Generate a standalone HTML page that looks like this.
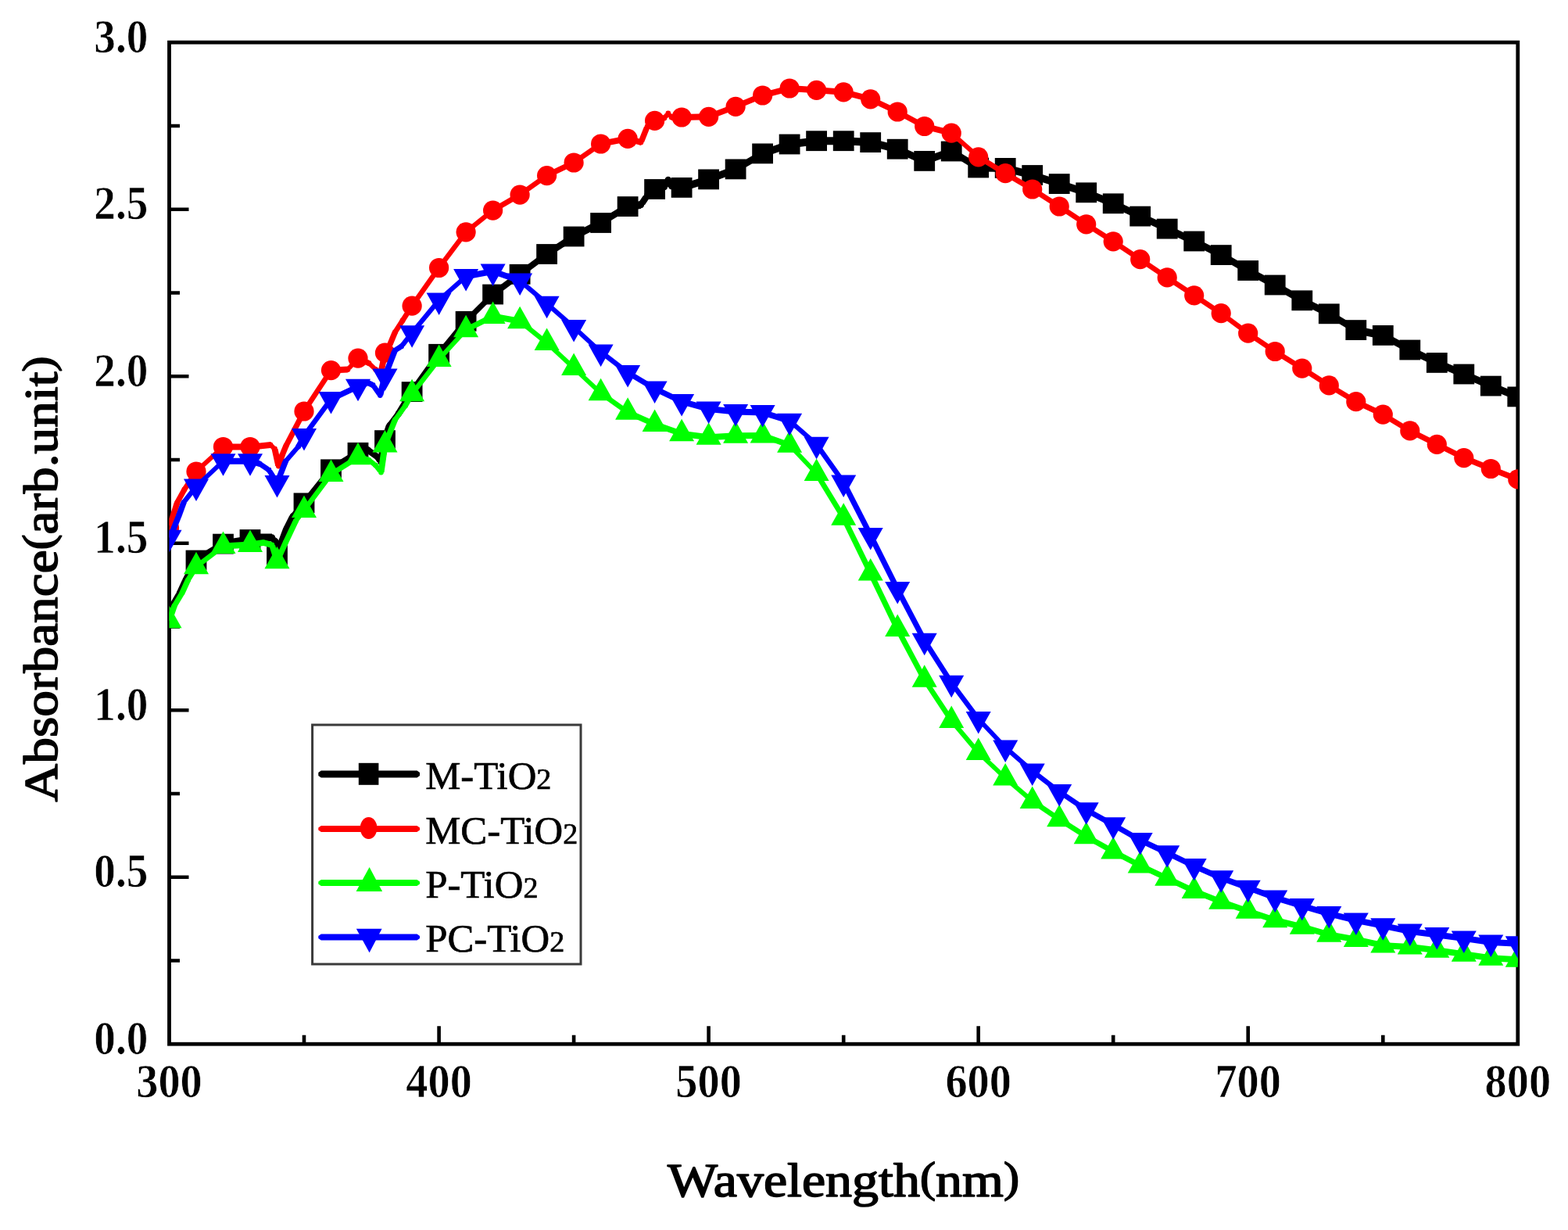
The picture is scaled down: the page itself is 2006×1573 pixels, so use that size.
<!DOCTYPE html>
<html lang="en">
<head>
<meta charset="utf-8">
<title>Absorbance vs Wavelength</title>
<style>
html,body{margin:0;padding:0;background:#fff;}
body{width:2006px;height:1573px;overflow:hidden;}
svg{display:block;filter:blur(0.55px);}
text{font-family:"Liberation Serif",serif;}
</style>
</head>
<body>
<svg width="2006" height="1573" viewBox="0 0 2006 1573">
<rect width="2006" height="1573" fill="#fff"/>
<rect x="216.5" y="54.2" width="1725.3" height="1281.0" fill="none" stroke="#000" stroke-width="4.8"/>
<path d="M216.5,1228.5h13.5M216.5,1121.7h25.0M216.5,1015.0h13.5M216.5,908.2h25.0M216.5,801.5h13.5M216.5,694.7h25.0M216.5,588.0h13.5M216.5,481.2h25.0M216.5,374.5h13.5M216.5,267.7h25.0M216.5,161.0h13.5M389.0,1335.2v-11.5M561.6,1335.2v-23.0M734.1,1335.2v-11.5M906.6,1335.2v-23.0M1079.2,1335.2v-11.5M1251.7,1335.2v-23.0M1424.2,1335.2v-11.5M1596.7,1335.2v-23.0M1769.3,1335.2v-11.5" stroke="#000" stroke-width="4.6" fill="none"/>
<clipPath id="plot"><rect x="216.5" y="54.2" width="1725.3" height="1281.0"/></clipPath>
<g clip-path="url(#plot)"><g fill="#000"><polygon points="211.5,789.0 215.5,775.0 225.5,775.0 221.5,789.0"/><polygon points="215.5,775.0 225.5,758.3 235.5,758.3 225.5,775.0"/><polygon points="225.5,758.3 233.0,741.8 243.0,741.8 235.5,758.3"/><polygon points="233.0,741.8 246.0,716.5 256.0,716.5 243.0,741.8"/><polygon points="251.0,711.5 285.5,690.6 285.5,700.6 251.0,721.5"/><polygon points="285.5,690.6 320.0,685.0 320.0,695.0 285.5,700.6"/><polygon points="320.0,685.0 332.0,682.5 332.0,692.5 320.0,695.0"/><polygon points="332.0,682.5 348.0,682.5 348.0,692.5 332.0,692.5"/><polygon points="343.0,687.5 347.0,692.0 357.0,692.0 353.0,687.5"/><polygon points="347.0,692.0 349.5,706.0 359.5,706.0 357.0,692.0"/><polygon points="349.5,706.0 356.0,692.0 366.0,692.0 359.5,706.0"/><polygon points="356.0,692.0 362.0,676.0 372.0,676.0 366.0,692.0"/><polygon points="362.0,676.0 370.0,660.0 380.0,660.0 372.0,676.0"/><polygon points="370.0,660.0 384.0,643.3 394.0,643.3 380.0,660.0"/><polygon points="384.0,643.3 418.5,600.3 428.5,600.3 394.0,643.3"/><polygon points="423.5,595.3 458.0,573.8 458.0,583.8 423.5,605.3"/><polygon points="458.0,573.8 470.6,570.5 470.6,580.5 458.0,583.8"/><polygon points="470.6,570.5 483.8,580.0 483.8,590.0 470.6,580.5"/><polygon points="478.8,585.0 482.5,591.0 492.5,591.0 488.8,585.0"/><polygon points="482.5,591.0 487.5,563.1 497.5,563.1 492.5,591.0"/><polygon points="487.5,563.1 493.7,544.0 503.7,544.0 497.5,563.1"/><polygon points="493.7,544.0 505.0,529.0 515.0,529.0 503.7,544.0"/><polygon points="505.0,529.0 522.1,501.1 532.1,501.1 515.0,529.0"/><polygon points="522.1,501.1 556.6,452.8 566.6,452.8 532.1,501.1"/><polygon points="556.6,452.8 591.1,410.8 601.1,410.8 566.6,452.8"/><polygon points="596.1,405.8 630.6,371.5 630.6,381.5 596.1,415.8"/><polygon points="630.6,371.5 665.1,345.8 665.1,355.8 630.6,381.5"/><polygon points="665.1,345.8 699.6,320.0 699.6,330.0 665.1,355.8"/><polygon points="699.6,320.0 734.1,297.5 734.1,307.5 699.6,330.0"/><polygon points="734.1,297.5 768.6,280.0 768.6,290.0 734.1,307.5"/><polygon points="768.6,280.0 803.1,259.1 803.1,269.1 768.6,290.0"/><polygon points="803.1,259.1 820.0,257.0 820.0,267.0 803.1,269.1"/><polygon points="815.0,262.0 823.0,250.0 833.0,250.0 825.0,262.0"/><polygon points="828.0,245.0 837.6,237.0 837.6,247.0 828.0,255.0"/><polygon points="837.6,237.0 850.0,234.0 850.0,244.0 837.6,247.0"/><polygon points="845.0,239.0 849.8,230.0 859.8,230.0 855.0,239.0"/><polygon points="849.8,230.0 854.0,238.0 864.0,238.0 859.8,230.0"/><polygon points="859.0,233.0 872.1,234.9 872.1,244.9 859.0,243.0"/><polygon points="872.1,234.9 906.6,224.4 906.6,234.4 872.1,244.9"/><polygon points="906.6,224.4 941.1,211.4 941.1,221.4 906.6,234.4"/><polygon points="941.1,211.4 975.6,191.4 975.6,201.4 941.1,221.4"/><polygon points="975.6,191.4 1010.1,179.5 1010.1,189.5 975.6,201.4"/><polygon points="1010.1,179.5 1044.6,175.2 1044.6,185.2 1010.1,189.5"/><polygon points="1044.6,175.2 1079.2,175.2 1079.2,185.2 1044.6,185.2"/><polygon points="1079.2,175.2 1113.7,177.1 1113.7,187.1 1079.2,185.2"/><polygon points="1113.7,177.1 1148.2,185.7 1148.2,195.7 1113.7,187.1"/><polygon points="1148.2,185.7 1182.7,200.9 1182.7,210.9 1148.2,195.7"/><polygon points="1182.7,200.9 1217.2,188.5 1217.2,198.5 1182.7,210.9"/><polygon points="1217.2,188.5 1251.7,209.5 1251.7,219.5 1217.2,198.5"/><polygon points="1251.7,209.5 1286.2,209.9 1286.2,219.9 1251.7,219.5"/><polygon points="1286.2,209.9 1320.7,219.0 1320.7,229.0 1286.2,219.9"/><polygon points="1320.7,219.0 1355.2,230.1 1355.2,240.1 1320.7,229.0"/><polygon points="1355.2,230.1 1389.7,241.3 1389.7,251.3 1355.2,240.1"/><polygon points="1389.7,241.3 1424.2,255.3 1424.2,265.3 1389.7,251.3"/><polygon points="1424.2,255.3 1458.7,271.6 1458.7,281.6 1424.2,265.3"/><polygon points="1458.7,271.6 1493.2,287.6 1493.2,297.6 1458.7,281.6"/><polygon points="1493.2,287.6 1527.7,303.5 1527.7,313.5 1493.2,297.6"/><polygon points="1527.7,303.5 1562.2,321.1 1562.2,331.1 1527.7,313.5"/><polygon points="1562.2,321.1 1596.7,341.0 1596.7,351.0 1562.2,331.1"/><polygon points="1596.7,341.0 1631.2,359.5 1631.2,369.5 1596.7,351.0"/><polygon points="1631.2,359.5 1665.8,379.3 1665.8,389.3 1631.2,369.5"/><polygon points="1665.8,379.3 1700.3,396.3 1700.3,406.3 1665.8,389.3"/><polygon points="1700.3,396.3 1734.8,417.1 1734.8,427.1 1700.3,406.3"/><polygon points="1734.8,417.1 1769.3,423.9 1769.3,433.9 1734.8,427.1"/><polygon points="1769.3,423.9 1803.8,442.5 1803.8,452.5 1769.3,433.9"/><polygon points="1803.8,442.5 1838.3,458.9 1838.3,468.9 1803.8,452.5"/><polygon points="1838.3,458.9 1872.8,473.5 1872.8,483.5 1838.3,468.9"/><polygon points="1872.8,473.5 1907.3,488.6 1907.3,498.6 1872.8,483.5"/><polygon points="1907.3,488.6 1941.8,502.4 1941.8,512.4 1907.3,498.6"/><circle cx="220.5" cy="775.0" r="4.2"/><circle cx="230.5" cy="758.3" r="4.2"/><circle cx="238.0" cy="741.8" r="4.2"/><circle cx="251.0" cy="716.5" r="4.2"/><circle cx="285.5" cy="695.6" r="4.2"/><circle cx="320.0" cy="690.0" r="4.2"/><circle cx="332.0" cy="687.5" r="4.2"/><circle cx="348.0" cy="687.5" r="4.2"/><circle cx="352.0" cy="692.0" r="4.2"/><circle cx="354.5" cy="706.0" r="4.2"/><circle cx="361.0" cy="692.0" r="4.2"/><circle cx="367.0" cy="676.0" r="4.2"/><circle cx="375.0" cy="660.0" r="4.2"/><circle cx="389.0" cy="643.3" r="4.2"/><circle cx="423.5" cy="600.3" r="4.2"/><circle cx="458.0" cy="578.8" r="4.2"/><circle cx="470.6" cy="575.5" r="4.2"/><circle cx="483.8" cy="585.0" r="4.2"/><circle cx="487.5" cy="591.0" r="4.2"/><circle cx="492.5" cy="563.1" r="4.2"/><circle cx="498.7" cy="544.0" r="4.2"/><circle cx="510.0" cy="529.0" r="4.2"/><circle cx="527.1" cy="501.1" r="4.2"/><circle cx="561.6" cy="452.8" r="4.2"/><circle cx="596.1" cy="410.8" r="4.2"/><circle cx="630.6" cy="376.5" r="4.2"/><circle cx="665.1" cy="350.8" r="4.2"/><circle cx="699.6" cy="325.0" r="4.2"/><circle cx="734.1" cy="302.5" r="4.2"/><circle cx="768.6" cy="285.0" r="4.2"/><circle cx="803.1" cy="264.1" r="4.2"/><circle cx="820.0" cy="262.0" r="4.2"/><circle cx="828.0" cy="250.0" r="4.2"/><circle cx="837.6" cy="242.0" r="4.2"/><circle cx="850.0" cy="239.0" r="4.2"/><circle cx="854.8" cy="230.0" r="4.2"/><circle cx="859.0" cy="238.0" r="4.2"/><circle cx="872.1" cy="239.9" r="4.2"/><circle cx="906.6" cy="229.4" r="4.2"/><circle cx="941.1" cy="216.4" r="4.2"/><circle cx="975.6" cy="196.4" r="4.2"/><circle cx="1010.1" cy="184.5" r="4.2"/><circle cx="1044.6" cy="180.2" r="4.2"/><circle cx="1079.2" cy="180.2" r="4.2"/><circle cx="1113.7" cy="182.1" r="4.2"/><circle cx="1148.2" cy="190.7" r="4.2"/><circle cx="1182.7" cy="205.9" r="4.2"/><circle cx="1217.2" cy="193.5" r="4.2"/><circle cx="1251.7" cy="214.5" r="4.2"/><circle cx="1286.2" cy="214.9" r="4.2"/><circle cx="1320.7" cy="224.0" r="4.2"/><circle cx="1355.2" cy="235.1" r="4.2"/><circle cx="1389.7" cy="246.3" r="4.2"/><circle cx="1424.2" cy="260.3" r="4.2"/><circle cx="1458.7" cy="276.6" r="4.2"/><circle cx="1493.2" cy="292.6" r="4.2"/><circle cx="1527.7" cy="308.5" r="4.2"/><circle cx="1562.2" cy="326.1" r="4.2"/><circle cx="1596.7" cy="346.0" r="4.2"/><circle cx="1631.2" cy="364.5" r="4.2"/><circle cx="1665.8" cy="384.3" r="4.2"/><circle cx="1700.3" cy="401.3" r="4.2"/><circle cx="1734.8" cy="422.1" r="4.2"/><circle cx="1769.3" cy="428.9" r="4.2"/><circle cx="1803.8" cy="447.5" r="4.2"/><circle cx="1838.3" cy="463.9" r="4.2"/><circle cx="1872.8" cy="478.5" r="4.2"/><circle cx="1907.3" cy="493.6" r="4.2"/></g>
<g fill="#000"><rect x="237.6" y="703.6" width="26.8" height="25.8"/><rect x="272.1" y="682.7" width="26.8" height="25.8"/><rect x="306.6" y="677.1" width="26.8" height="25.8"/><rect x="341.1" y="697.1" width="26.8" height="25.8"/><rect x="375.6" y="630.4" width="26.8" height="25.8"/><rect x="410.1" y="587.4" width="26.8" height="25.8"/><rect x="444.6" y="565.9" width="26.8" height="25.8"/><rect x="479.1" y="550.2" width="26.8" height="25.8"/><rect x="513.7" y="488.2" width="26.8" height="25.8"/><rect x="548.2" y="439.9" width="26.8" height="25.8"/><rect x="582.7" y="397.9" width="26.8" height="25.8"/><rect x="617.2" y="363.6" width="26.8" height="25.8"/><rect x="651.7" y="337.9" width="26.8" height="25.8"/><rect x="686.2" y="312.1" width="26.8" height="25.8"/><rect x="720.7" y="289.6" width="26.8" height="25.8"/><rect x="755.2" y="272.1" width="26.8" height="25.8"/><rect x="789.7" y="251.2" width="26.8" height="25.8"/><rect x="824.2" y="229.1" width="26.8" height="25.8"/><rect x="858.7" y="227.0" width="26.8" height="25.8"/><rect x="893.2" y="216.5" width="26.8" height="25.8"/><rect x="927.7" y="203.5" width="26.8" height="25.8"/><rect x="962.2" y="183.5" width="26.8" height="25.8"/><rect x="996.7" y="171.6" width="26.8" height="25.8"/><rect x="1031.2" y="167.3" width="26.8" height="25.8"/><rect x="1065.8" y="167.3" width="26.8" height="25.8"/><rect x="1100.3" y="169.2" width="26.8" height="25.8"/><rect x="1134.8" y="177.8" width="26.8" height="25.8"/><rect x="1169.3" y="193.0" width="26.8" height="25.8"/><rect x="1203.8" y="180.6" width="26.8" height="25.8"/><rect x="1238.3" y="201.6" width="26.8" height="25.8"/><rect x="1272.8" y="202.0" width="26.8" height="25.8"/><rect x="1307.3" y="211.1" width="26.8" height="25.8"/><rect x="1341.8" y="222.2" width="26.8" height="25.8"/><rect x="1376.3" y="233.4" width="26.8" height="25.8"/><rect x="1410.8" y="247.4" width="26.8" height="25.8"/><rect x="1445.3" y="263.7" width="26.8" height="25.8"/><rect x="1479.8" y="279.7" width="26.8" height="25.8"/><rect x="1514.3" y="295.6" width="26.8" height="25.8"/><rect x="1548.8" y="313.2" width="26.8" height="25.8"/><rect x="1583.3" y="333.1" width="26.8" height="25.8"/><rect x="1617.8" y="351.6" width="26.8" height="25.8"/><rect x="1652.4" y="371.4" width="26.8" height="25.8"/><rect x="1686.9" y="388.4" width="26.8" height="25.8"/><rect x="1721.4" y="409.2" width="26.8" height="25.8"/><rect x="1755.9" y="416.0" width="26.8" height="25.8"/><rect x="1790.4" y="434.6" width="26.8" height="25.8"/><rect x="1824.9" y="451.0" width="26.8" height="25.8"/><rect x="1859.4" y="465.6" width="26.8" height="25.8"/><rect x="1893.9" y="480.7" width="26.8" height="25.8"/><rect x="1928.4" y="494.5" width="26.8" height="25.8"/></g>
<g fill="#f00"><polygon points="212.5,672.0 217.5,659.2 225.5,659.2 220.5,672.0"/><polygon points="217.5,659.2 222.8,642.6 230.8,642.6 225.5,659.2"/><polygon points="222.8,642.6 231.9,626.0 239.9,626.0 230.8,642.6"/><polygon points="231.9,626.0 247.0,603.0 255.0,603.0 239.9,626.0"/><polygon points="251.0,599.0 285.5,567.5 285.5,575.5 251.0,607.0"/><polygon points="285.5,567.5 320.0,567.5 320.0,575.5 285.5,575.5"/><polygon points="320.0,567.5 332.0,566.5 332.0,574.5 320.0,575.5"/><polygon points="332.0,566.5 346.0,565.0 346.0,573.0 332.0,574.5"/><polygon points="346.0,565.0 351.5,570.0 351.5,578.0 346.0,573.0"/><polygon points="347.5,574.0 352.3,596.0 360.3,596.0 355.5,574.0"/><polygon points="352.3,596.0 357.0,582.0 365.0,582.0 360.3,596.0"/><polygon points="357.0,582.0 362.0,570.0 370.0,570.0 365.0,582.0"/><polygon points="362.0,570.0 385.0,526.0 393.0,526.0 370.0,570.0"/><polygon points="385.0,526.0 419.5,473.6 427.5,473.6 393.0,526.0"/><polygon points="423.5,469.6 445.0,468.5 445.0,476.5 423.5,477.6"/><polygon points="441.0,472.5 454.0,458.2 462.0,458.2 449.0,472.5"/><polygon points="458.0,454.2 472.0,460.5 472.0,468.5 458.0,462.2"/><polygon points="472.0,460.5 480.5,468.5 480.5,476.5 472.0,468.5"/><polygon points="480.5,468.5 487.0,474.0 487.0,482.0 480.5,476.5"/><polygon points="483.0,478.0 488.5,451.2 496.5,451.2 491.0,478.0"/><polygon points="488.5,451.2 494.7,441.0 502.7,441.0 496.5,451.2"/><polygon points="494.7,441.0 501.3,425.0 509.3,425.0 502.7,441.0"/><polygon points="501.3,425.0 511.0,410.0 519.0,410.0 509.3,425.0"/><polygon points="511.0,410.0 523.1,391.2 531.1,391.2 519.0,410.0"/><polygon points="523.1,391.2 557.6,342.5 565.6,342.5 531.1,391.2"/><polygon points="557.6,342.5 592.1,296.8 600.1,296.8 565.6,342.5"/><polygon points="596.1,292.8 630.6,265.1 630.6,273.1 596.1,300.8"/><polygon points="630.6,265.1 665.1,245.1 665.1,253.1 630.6,273.1"/><polygon points="665.1,245.1 699.6,220.6 699.6,228.6 665.1,253.1"/><polygon points="699.6,220.6 734.1,204.0 734.1,212.0 699.6,228.6"/><polygon points="734.1,204.0 768.6,180.0 768.6,188.0 734.1,212.0"/><polygon points="768.6,180.0 803.1,173.3 803.1,181.3 768.6,188.0"/><polygon points="803.1,173.3 820.0,178.0 820.0,186.0 803.1,181.3"/><polygon points="816.0,182.0 824.0,162.0 832.0,162.0 824.0,182.0"/><polygon points="828.0,158.0 837.6,150.4 837.6,158.4 828.0,166.0"/><polygon points="837.6,150.4 850.0,147.0 850.0,155.0 837.6,158.4"/><polygon points="846.0,151.0 850.8,145.0 858.8,145.0 854.0,151.0"/><polygon points="850.8,145.0 855.0,150.0 863.0,150.0 858.8,145.0"/><polygon points="859.0,146.0 872.1,146.0 872.1,154.0 859.0,154.0"/><polygon points="872.1,146.0 906.6,145.3 906.6,153.3 872.1,154.0"/><polygon points="906.6,145.3 941.1,132.3 941.1,140.3 906.6,153.3"/><polygon points="941.1,132.3 975.6,118.0 975.6,126.0 941.1,140.3"/><polygon points="975.6,118.0 1010.1,109.0 1010.1,117.0 975.6,126.0"/><polygon points="1010.1,109.0 1044.6,111.3 1044.6,119.3 1010.1,117.0"/><polygon points="1044.6,111.3 1079.2,113.8 1079.2,121.8 1044.6,119.3"/><polygon points="1079.2,113.8 1113.7,122.8 1113.7,130.8 1079.2,121.8"/><polygon points="1113.7,122.8 1148.2,139.0 1148.2,147.0 1113.7,130.8"/><polygon points="1148.2,139.0 1182.7,157.5 1182.7,165.5 1148.2,147.0"/><polygon points="1182.7,157.5 1217.2,166.2 1217.2,174.2 1182.7,165.5"/><polygon points="1217.2,166.2 1251.7,196.8 1251.7,204.8 1217.2,174.2"/><polygon points="1251.7,196.8 1286.2,217.7 1286.2,225.7 1251.7,204.8"/><polygon points="1286.2,217.7 1320.7,238.0 1320.7,246.0 1286.2,225.7"/><polygon points="1320.7,238.0 1355.2,260.0 1355.2,268.0 1320.7,246.0"/><polygon points="1355.2,260.0 1389.7,282.8 1389.7,290.8 1355.2,268.0"/><polygon points="1389.7,282.8 1424.2,304.8 1424.2,312.8 1389.7,290.8"/><polygon points="1424.2,304.8 1458.7,327.7 1458.7,335.7 1424.2,312.8"/><polygon points="1458.7,327.7 1493.2,350.9 1493.2,358.9 1458.7,335.7"/><polygon points="1493.2,350.9 1527.7,373.8 1527.7,381.8 1493.2,358.9"/><polygon points="1527.7,373.8 1562.2,396.7 1562.2,404.7 1527.7,381.8"/><polygon points="1562.2,396.7 1596.7,422.2 1596.7,430.2 1562.2,404.7"/><polygon points="1596.7,422.2 1631.2,445.5 1631.2,453.5 1596.7,430.2"/><polygon points="1631.2,445.5 1665.8,467.1 1665.8,475.1 1631.2,453.5"/><polygon points="1665.8,467.1 1700.3,488.9 1700.3,496.9 1665.8,475.1"/><polygon points="1700.3,488.9 1734.8,509.7 1734.8,517.7 1700.3,496.9"/><polygon points="1734.8,509.7 1769.3,526.1 1769.3,534.1 1734.8,517.7"/><polygon points="1769.3,526.1 1803.8,546.9 1803.8,554.9 1769.3,534.1"/><polygon points="1803.8,546.9 1838.3,564.3 1838.3,572.3 1803.8,554.9"/><polygon points="1838.3,564.3 1872.8,581.6 1872.8,589.6 1838.3,572.3"/><polygon points="1872.8,581.6 1907.3,595.5 1907.3,603.5 1872.8,589.6"/><polygon points="1907.3,595.5 1941.8,608.9 1941.8,616.9 1907.3,603.5"/><circle cx="221.5" cy="659.2" r="3.4"/><circle cx="226.8" cy="642.6" r="3.4"/><circle cx="235.9" cy="626.0" r="3.4"/><circle cx="251.0" cy="603.0" r="3.4"/><circle cx="285.5" cy="571.5" r="3.4"/><circle cx="320.0" cy="571.5" r="3.4"/><circle cx="332.0" cy="570.5" r="3.4"/><circle cx="346.0" cy="569.0" r="3.4"/><circle cx="351.5" cy="574.0" r="3.4"/><circle cx="356.3" cy="596.0" r="3.4"/><circle cx="361.0" cy="582.0" r="3.4"/><circle cx="366.0" cy="570.0" r="3.4"/><circle cx="389.0" cy="526.0" r="3.4"/><circle cx="423.5" cy="473.6" r="3.4"/><circle cx="445.0" cy="472.5" r="3.4"/><circle cx="458.0" cy="458.2" r="3.4"/><circle cx="472.0" cy="464.5" r="3.4"/><circle cx="480.5" cy="472.5" r="3.4"/><circle cx="487.0" cy="478.0" r="3.4"/><circle cx="492.5" cy="451.2" r="3.4"/><circle cx="498.7" cy="441.0" r="3.4"/><circle cx="505.3" cy="425.0" r="3.4"/><circle cx="515.0" cy="410.0" r="3.4"/><circle cx="527.1" cy="391.2" r="3.4"/><circle cx="561.6" cy="342.5" r="3.4"/><circle cx="596.1" cy="296.8" r="3.4"/><circle cx="630.6" cy="269.1" r="3.4"/><circle cx="665.1" cy="249.1" r="3.4"/><circle cx="699.6" cy="224.6" r="3.4"/><circle cx="734.1" cy="208.0" r="3.4"/><circle cx="768.6" cy="184.0" r="3.4"/><circle cx="803.1" cy="177.3" r="3.4"/><circle cx="820.0" cy="182.0" r="3.4"/><circle cx="828.0" cy="162.0" r="3.4"/><circle cx="837.6" cy="154.4" r="3.4"/><circle cx="850.0" cy="151.0" r="3.4"/><circle cx="854.8" cy="145.0" r="3.4"/><circle cx="859.0" cy="150.0" r="3.4"/><circle cx="872.1" cy="150.0" r="3.4"/><circle cx="906.6" cy="149.3" r="3.4"/><circle cx="941.1" cy="136.3" r="3.4"/><circle cx="975.6" cy="122.0" r="3.4"/><circle cx="1010.1" cy="113.0" r="3.4"/><circle cx="1044.6" cy="115.3" r="3.4"/><circle cx="1079.2" cy="117.8" r="3.4"/><circle cx="1113.7" cy="126.8" r="3.4"/><circle cx="1148.2" cy="143.0" r="3.4"/><circle cx="1182.7" cy="161.5" r="3.4"/><circle cx="1217.2" cy="170.2" r="3.4"/><circle cx="1251.7" cy="200.8" r="3.4"/><circle cx="1286.2" cy="221.7" r="3.4"/><circle cx="1320.7" cy="242.0" r="3.4"/><circle cx="1355.2" cy="264.0" r="3.4"/><circle cx="1389.7" cy="286.8" r="3.4"/><circle cx="1424.2" cy="308.8" r="3.4"/><circle cx="1458.7" cy="331.7" r="3.4"/><circle cx="1493.2" cy="354.9" r="3.4"/><circle cx="1527.7" cy="377.8" r="3.4"/><circle cx="1562.2" cy="400.7" r="3.4"/><circle cx="1596.7" cy="426.2" r="3.4"/><circle cx="1631.2" cy="449.5" r="3.4"/><circle cx="1665.8" cy="471.1" r="3.4"/><circle cx="1700.3" cy="492.9" r="3.4"/><circle cx="1734.8" cy="513.7" r="3.4"/><circle cx="1769.3" cy="530.1" r="3.4"/><circle cx="1803.8" cy="550.9" r="3.4"/><circle cx="1838.3" cy="568.3" r="3.4"/><circle cx="1872.8" cy="585.6" r="3.4"/><circle cx="1907.3" cy="599.5" r="3.4"/></g>
<g fill="#f00"><circle cx="216.5" cy="675.0" r="12.6"/><circle cx="251.0" cy="603.0" r="12.6"/><circle cx="285.5" cy="571.5" r="12.6"/><circle cx="320.0" cy="571.5" r="12.6"/><circle cx="389.0" cy="526.0" r="12.6"/><circle cx="423.5" cy="473.6" r="12.6"/><circle cx="458.0" cy="458.2" r="12.6"/><circle cx="492.5" cy="451.2" r="12.6"/><circle cx="527.1" cy="391.2" r="12.6"/><circle cx="561.6" cy="342.5" r="12.6"/><circle cx="596.1" cy="296.8" r="12.6"/><circle cx="630.6" cy="269.1" r="12.6"/><circle cx="665.1" cy="249.1" r="12.6"/><circle cx="699.6" cy="224.6" r="12.6"/><circle cx="734.1" cy="208.0" r="12.6"/><circle cx="768.6" cy="184.0" r="12.6"/><circle cx="803.1" cy="177.3" r="12.6"/><circle cx="837.6" cy="154.4" r="12.6"/><circle cx="872.1" cy="150.0" r="12.6"/><circle cx="906.6" cy="149.3" r="12.6"/><circle cx="941.1" cy="136.3" r="12.6"/><circle cx="975.6" cy="122.0" r="12.6"/><circle cx="1010.1" cy="113.0" r="12.6"/><circle cx="1044.6" cy="115.3" r="12.6"/><circle cx="1079.2" cy="117.8" r="12.6"/><circle cx="1113.7" cy="126.8" r="12.6"/><circle cx="1148.2" cy="143.0" r="12.6"/><circle cx="1182.7" cy="161.5" r="12.6"/><circle cx="1217.2" cy="170.2" r="12.6"/><circle cx="1251.7" cy="200.8" r="12.6"/><circle cx="1286.2" cy="221.7" r="12.6"/><circle cx="1320.7" cy="242.0" r="12.6"/><circle cx="1355.2" cy="264.0" r="12.6"/><circle cx="1389.7" cy="286.8" r="12.6"/><circle cx="1424.2" cy="308.8" r="12.6"/><circle cx="1458.7" cy="331.7" r="12.6"/><circle cx="1493.2" cy="354.9" r="12.6"/><circle cx="1527.7" cy="377.8" r="12.6"/><circle cx="1562.2" cy="400.7" r="12.6"/><circle cx="1596.7" cy="426.2" r="12.6"/><circle cx="1631.2" cy="449.5" r="12.6"/><circle cx="1665.8" cy="471.1" r="12.6"/><circle cx="1700.3" cy="492.9" r="12.6"/><circle cx="1734.8" cy="513.7" r="12.6"/><circle cx="1769.3" cy="530.1" r="12.6"/><circle cx="1803.8" cy="550.9" r="12.6"/><circle cx="1838.3" cy="568.3" r="12.6"/><circle cx="1872.8" cy="585.6" r="12.6"/><circle cx="1907.3" cy="599.5" r="12.6"/><circle cx="1941.8" cy="612.9" r="12.6"/></g>
<g fill="#0f0"><polygon points="212.5,793.8 219.0,775.0 227.0,775.0 220.5,793.8"/><polygon points="219.0,775.0 229.0,758.3 237.0,758.3 227.0,775.0"/><polygon points="229.0,758.3 236.5,741.8 244.5,741.8 237.0,758.3"/><polygon points="236.5,741.8 247.0,724.8 255.0,724.8 244.5,741.8"/><polygon points="251.0,720.8 285.5,694.4 285.5,702.4 251.0,728.8"/><polygon points="285.5,694.4 320.0,692.5 320.0,700.5 285.5,702.4"/><polygon points="320.0,692.5 337.0,690.0 337.0,698.0 320.0,700.5"/><polygon points="337.0,690.0 348.0,693.0 348.0,701.0 337.0,698.0"/><polygon points="344.0,697.0 350.5,717.8 358.5,717.8 352.0,697.0"/><polygon points="350.5,717.8 361.3,694.0 369.3,694.0 358.5,717.8"/><polygon points="361.3,694.0 374.5,666.0 382.5,666.0 369.3,694.0"/><polygon points="374.5,666.0 385.0,652.5 393.0,652.5 382.5,666.0"/><polygon points="385.0,652.5 419.5,606.4 427.5,606.4 393.0,652.5"/><polygon points="423.5,602.4 458.0,580.8 458.0,588.8 423.5,610.4"/><polygon points="458.0,580.8 472.0,584.5 472.0,592.5 458.0,588.8"/><polygon points="472.0,584.5 480.5,591.0 480.5,599.0 472.0,592.5"/><polygon points="476.5,595.0 483.5,604.0 491.5,604.0 484.5,595.0"/><polygon points="483.5,604.0 488.5,569.1 496.5,569.1 491.5,604.0"/><polygon points="488.5,569.1 501.3,537.0 509.3,537.0 496.5,569.1"/><polygon points="501.3,537.0 514.5,519.0 522.5,519.0 509.3,537.0"/><polygon points="514.5,519.0 523.1,503.8 531.1,503.8 522.5,519.0"/><polygon points="523.1,503.8 557.6,459.4 565.6,459.4 531.1,503.8"/><polygon points="557.6,459.4 592.1,421.8 600.1,421.8 565.6,459.4"/><polygon points="596.1,417.8 630.6,400.4 630.6,408.4 596.1,425.8"/><polygon points="630.6,400.4 665.1,406.8 665.1,414.8 630.6,408.4"/><polygon points="665.1,406.8 699.6,434.4 699.6,442.4 665.1,414.8"/><polygon points="699.6,434.4 734.1,466.4 734.1,474.4 699.6,442.4"/><polygon points="734.1,466.4 768.6,498.8 768.6,506.8 734.1,474.4"/><polygon points="768.6,498.8 803.1,523.2 803.1,531.2 768.6,506.8"/><polygon points="803.1,523.2 837.6,538.4 837.6,546.4 803.1,531.2"/><polygon points="837.6,538.4 872.1,550.8 872.1,558.8 837.6,546.4"/><polygon points="872.1,550.8 906.6,555.2 906.6,563.2 872.1,558.8"/><polygon points="906.6,555.2 941.1,553.2 941.1,561.2 906.6,563.2"/><polygon points="941.1,553.2 975.6,553.0 975.6,561.0 941.1,561.2"/><polygon points="975.6,553.0 1010.1,565.2 1010.1,573.2 975.6,561.0"/><polygon points="1006.1,569.2 1040.6,605.4 1048.6,605.4 1014.1,569.2"/><polygon points="1040.6,605.4 1075.2,662.2 1083.2,662.2 1048.6,605.4"/><polygon points="1075.2,662.2 1109.7,733.0 1117.7,733.0 1083.2,662.2"/><polygon points="1109.7,733.0 1144.2,804.5 1152.2,804.5 1117.7,733.0"/><polygon points="1144.2,804.5 1178.7,869.2 1186.7,869.2 1152.2,804.5"/><polygon points="1178.7,869.2 1213.2,921.5 1221.2,921.5 1186.7,869.2"/><polygon points="1213.2,921.5 1247.7,962.5 1255.7,962.5 1221.2,921.5"/><polygon points="1251.7,958.5 1286.2,991.0 1286.2,999.0 1251.7,966.5"/><polygon points="1286.2,991.0 1320.7,1020.5 1320.7,1028.5 1286.2,999.0"/><polygon points="1320.7,1020.5 1355.2,1043.8 1355.2,1051.8 1320.7,1028.5"/><polygon points="1355.2,1043.8 1389.7,1065.8 1389.7,1073.8 1355.2,1051.8"/><polygon points="1389.7,1065.8 1424.2,1085.0 1424.2,1093.0 1389.7,1073.8"/><polygon points="1424.2,1085.0 1458.7,1103.0 1458.7,1111.0 1424.2,1093.0"/><polygon points="1458.7,1103.0 1493.2,1119.3 1493.2,1127.3 1458.7,1111.0"/><polygon points="1493.2,1119.3 1527.7,1135.5 1527.7,1143.5 1493.2,1127.3"/><polygon points="1527.7,1135.5 1562.2,1149.2 1562.2,1157.2 1527.7,1143.5"/><polygon points="1562.2,1149.2 1596.7,1161.2 1596.7,1169.2 1562.2,1157.2"/><polygon points="1596.7,1161.2 1631.2,1172.8 1631.2,1180.8 1596.7,1169.2"/><polygon points="1631.2,1172.8 1665.8,1181.2 1665.8,1189.2 1631.2,1180.8"/><polygon points="1665.8,1181.2 1700.3,1191.2 1700.3,1199.2 1665.8,1189.2"/><polygon points="1700.3,1191.2 1734.8,1197.5 1734.8,1205.5 1700.3,1199.2"/><polygon points="1734.8,1197.5 1769.3,1205.0 1769.3,1213.0 1734.8,1205.5"/><polygon points="1769.3,1205.0 1803.8,1207.0 1803.8,1215.0 1769.3,1213.0"/><polygon points="1803.8,1207.0 1838.3,1211.2 1838.3,1219.2 1803.8,1215.0"/><polygon points="1838.3,1211.2 1872.8,1216.2 1872.8,1224.2 1838.3,1219.2"/><polygon points="1872.8,1216.2 1907.3,1221.2 1907.3,1229.2 1872.8,1224.2"/><polygon points="1907.3,1221.2 1941.8,1223.2 1941.8,1231.2 1907.3,1229.2"/><circle cx="223.0" cy="775.0" r="3.4"/><circle cx="233.0" cy="758.3" r="3.4"/><circle cx="240.5" cy="741.8" r="3.4"/><circle cx="251.0" cy="724.8" r="3.4"/><circle cx="285.5" cy="698.4" r="3.4"/><circle cx="320.0" cy="696.5" r="3.4"/><circle cx="337.0" cy="694.0" r="3.4"/><circle cx="348.0" cy="697.0" r="3.4"/><circle cx="354.5" cy="717.8" r="3.4"/><circle cx="365.3" cy="694.0" r="3.4"/><circle cx="378.5" cy="666.0" r="3.4"/><circle cx="389.0" cy="652.5" r="3.4"/><circle cx="423.5" cy="606.4" r="3.4"/><circle cx="458.0" cy="584.8" r="3.4"/><circle cx="472.0" cy="588.5" r="3.4"/><circle cx="480.5" cy="595.0" r="3.4"/><circle cx="487.5" cy="604.0" r="3.4"/><circle cx="492.5" cy="569.1" r="3.4"/><circle cx="505.3" cy="537.0" r="3.4"/><circle cx="518.5" cy="519.0" r="3.4"/><circle cx="527.1" cy="503.8" r="3.4"/><circle cx="561.6" cy="459.4" r="3.4"/><circle cx="596.1" cy="421.8" r="3.4"/><circle cx="630.6" cy="404.4" r="3.4"/><circle cx="665.1" cy="410.8" r="3.4"/><circle cx="699.6" cy="438.4" r="3.4"/><circle cx="734.1" cy="470.4" r="3.4"/><circle cx="768.6" cy="502.8" r="3.4"/><circle cx="803.1" cy="527.2" r="3.4"/><circle cx="837.6" cy="542.4" r="3.4"/><circle cx="872.1" cy="554.8" r="3.4"/><circle cx="906.6" cy="559.2" r="3.4"/><circle cx="941.1" cy="557.2" r="3.4"/><circle cx="975.6" cy="557.0" r="3.4"/><circle cx="1010.1" cy="569.2" r="3.4"/><circle cx="1044.6" cy="605.4" r="3.4"/><circle cx="1079.2" cy="662.2" r="3.4"/><circle cx="1113.7" cy="733.0" r="3.4"/><circle cx="1148.2" cy="804.5" r="3.4"/><circle cx="1182.7" cy="869.2" r="3.4"/><circle cx="1217.2" cy="921.5" r="3.4"/><circle cx="1251.7" cy="962.5" r="3.4"/><circle cx="1286.2" cy="995.0" r="3.4"/><circle cx="1320.7" cy="1024.5" r="3.4"/><circle cx="1355.2" cy="1047.8" r="3.4"/><circle cx="1389.7" cy="1069.8" r="3.4"/><circle cx="1424.2" cy="1089.0" r="3.4"/><circle cx="1458.7" cy="1107.0" r="3.4"/><circle cx="1493.2" cy="1123.3" r="3.4"/><circle cx="1527.7" cy="1139.5" r="3.4"/><circle cx="1562.2" cy="1153.2" r="3.4"/><circle cx="1596.7" cy="1165.2" r="3.4"/><circle cx="1631.2" cy="1176.8" r="3.4"/><circle cx="1665.8" cy="1185.2" r="3.4"/><circle cx="1700.3" cy="1195.2" r="3.4"/><circle cx="1734.8" cy="1201.5" r="3.4"/><circle cx="1769.3" cy="1209.0" r="3.4"/><circle cx="1803.8" cy="1211.0" r="3.4"/><circle cx="1838.3" cy="1215.2" r="3.4"/><circle cx="1872.8" cy="1220.2" r="3.4"/><circle cx="1907.3" cy="1225.2" r="3.4"/></g>
<g fill="#0f0"><polygon points="216.5,774.8 232.5,803.2 200.5,803.2"/><polygon points="251.0,705.8 267.0,734.2 235.0,734.2"/><polygon points="285.5,679.4 301.5,707.9 269.5,707.9"/><polygon points="320.0,677.5 336.0,706.0 304.0,706.0"/><polygon points="354.5,698.8 370.5,727.2 338.5,727.2"/><polygon points="389.0,633.5 405.0,662.0 373.0,662.0"/><polygon points="423.5,587.4 439.5,615.9 407.5,615.9"/><polygon points="458.0,565.8 474.0,594.2 442.0,594.2"/><polygon points="492.5,550.1 508.5,578.6 476.5,578.6"/><polygon points="527.1,484.8 543.1,513.2 511.1,513.2"/><polygon points="561.6,440.4 577.6,468.9 545.6,468.9"/><polygon points="596.1,402.8 612.1,431.2 580.1,431.2"/><polygon points="630.6,385.4 646.6,413.9 614.6,413.9"/><polygon points="665.1,391.8 681.1,420.2 649.1,420.2"/><polygon points="699.6,419.4 715.6,447.9 683.6,447.9"/><polygon points="734.1,451.4 750.1,479.9 718.1,479.9"/><polygon points="768.6,483.8 784.6,512.2 752.6,512.2"/><polygon points="803.1,508.2 819.1,536.8 787.1,536.8"/><polygon points="837.6,523.4 853.6,551.9 821.6,551.9"/><polygon points="872.1,535.8 888.1,564.2 856.1,564.2"/><polygon points="906.6,540.2 922.6,568.8 890.6,568.8"/><polygon points="941.1,538.2 957.1,566.8 925.1,566.8"/><polygon points="975.6,538.0 991.6,566.5 959.6,566.5"/><polygon points="1010.1,550.2 1026.1,578.8 994.1,578.8"/><polygon points="1044.6,586.4 1060.6,614.9 1028.6,614.9"/><polygon points="1079.2,643.2 1095.2,671.8 1063.2,671.8"/><polygon points="1113.7,714.0 1129.7,742.5 1097.7,742.5"/><polygon points="1148.2,785.5 1164.2,814.0 1132.2,814.0"/><polygon points="1182.7,850.2 1198.7,878.8 1166.7,878.8"/><polygon points="1217.2,902.5 1233.2,931.0 1201.2,931.0"/><polygon points="1251.7,943.5 1267.7,972.0 1235.7,972.0"/><polygon points="1286.2,976.0 1302.2,1004.5 1270.2,1004.5"/><polygon points="1320.7,1005.5 1336.7,1034.0 1304.7,1034.0"/><polygon points="1355.2,1028.8 1371.2,1057.2 1339.2,1057.2"/><polygon points="1389.7,1050.8 1405.7,1079.2 1373.7,1079.2"/><polygon points="1424.2,1070.0 1440.2,1098.5 1408.2,1098.5"/><polygon points="1458.7,1088.0 1474.7,1116.5 1442.7,1116.5"/><polygon points="1493.2,1104.3 1509.2,1132.8 1477.2,1132.8"/><polygon points="1527.7,1120.5 1543.7,1149.0 1511.7,1149.0"/><polygon points="1562.2,1134.2 1578.2,1162.8 1546.2,1162.8"/><polygon points="1596.7,1146.2 1612.7,1174.8 1580.7,1174.8"/><polygon points="1631.2,1157.8 1647.2,1186.2 1615.2,1186.2"/><polygon points="1665.8,1166.2 1681.8,1194.8 1649.8,1194.8"/><polygon points="1700.3,1176.2 1716.3,1204.8 1684.3,1204.8"/><polygon points="1734.8,1182.5 1750.8,1211.0 1718.8,1211.0"/><polygon points="1769.3,1190.0 1785.3,1218.5 1753.3,1218.5"/><polygon points="1803.8,1192.0 1819.8,1220.5 1787.8,1220.5"/><polygon points="1838.3,1196.2 1854.3,1224.7 1822.3,1224.7"/><polygon points="1872.8,1201.2 1888.8,1229.7 1856.8,1229.7"/><polygon points="1907.3,1206.2 1923.3,1234.8 1891.3,1234.8"/><polygon points="1941.8,1208.2 1957.8,1236.7 1925.8,1236.7"/></g>
<g fill="#00f"><polygon points="212.5,687.2 218.3,675.7 226.3,675.7 220.5,687.2"/><polygon points="218.3,675.7 224.9,659.2 232.9,659.2 226.3,675.7"/><polygon points="224.9,659.2 231.0,642.6 239.0,642.6 232.9,659.2"/><polygon points="231.0,642.6 247.0,622.1 255.0,622.1 239.0,642.6"/><polygon points="251.0,618.1 285.5,585.8 285.5,593.8 251.0,626.1"/><polygon points="285.5,585.8 320.0,585.8 320.0,593.8 285.5,593.8"/><polygon points="320.0,585.8 332.0,589.0 332.0,597.0 320.0,593.8"/><polygon points="332.0,589.0 344.0,597.0 344.0,605.0 332.0,597.0"/><polygon points="340.0,601.0 350.5,617.5 358.5,617.5 348.0,601.0"/><polygon points="350.5,617.5 361.3,590.0 369.3,590.0 358.5,617.5"/><polygon points="361.3,590.0 377.8,571.0 385.8,571.0 369.3,590.0"/><polygon points="377.8,571.0 385.0,557.5 393.0,557.5 385.8,571.0"/><polygon points="385.0,557.5 419.5,510.5 427.5,510.5 393.0,557.5"/><polygon points="423.5,506.5 458.0,490.2 458.0,498.2 423.5,514.5"/><polygon points="458.0,490.2 470.6,485.5 470.6,493.5 458.0,498.2"/><polygon points="470.6,485.5 477.2,488.5 477.2,496.5 470.6,493.5"/><polygon points="473.2,492.5 482.3,505.5 490.3,505.5 481.2,492.5"/><polygon points="482.3,505.5 488.5,480.9 496.5,480.9 490.3,505.5"/><polygon points="488.5,480.9 501.3,448.0 509.3,448.0 496.5,480.9"/><polygon points="505.3,444.0 513.6,439.0 513.6,447.0 505.3,452.0"/><polygon points="509.6,443.0 523.1,425.8 531.1,425.8 517.6,443.0"/><polygon points="523.1,425.8 557.6,383.9 565.6,383.9 531.1,425.8"/><polygon points="561.6,379.9 596.1,349.6 596.1,357.6 561.6,387.9"/><polygon points="596.1,349.6 630.6,343.1 630.6,351.1 596.1,357.6"/><polygon points="630.6,343.1 665.1,355.1 665.1,363.1 630.6,351.1"/><polygon points="665.1,355.1 699.6,384.2 699.6,392.2 665.1,363.1"/><polygon points="699.6,384.2 734.1,414.6 734.1,422.6 699.6,392.2"/><polygon points="734.1,414.6 768.6,446.1 768.6,454.1 734.1,422.6"/><polygon points="768.6,446.1 803.1,472.4 803.1,480.4 768.6,454.1"/><polygon points="803.1,472.4 837.6,492.9 837.6,500.9 803.1,480.4"/><polygon points="837.6,492.9 872.1,509.5 872.1,517.5 837.6,500.9"/><polygon points="872.1,509.5 906.6,519.0 906.6,527.0 872.1,517.5"/><polygon points="906.6,519.0 941.1,522.4 941.1,530.4 906.6,527.0"/><polygon points="941.1,522.4 975.6,523.4 975.6,531.4 941.1,530.4"/><polygon points="975.6,523.4 1010.1,534.2 1010.1,542.2 975.6,531.4"/><polygon points="1010.1,534.2 1044.6,564.2 1044.6,572.2 1010.1,542.2"/><polygon points="1040.6,568.2 1075.2,617.0 1083.2,617.0 1048.6,568.2"/><polygon points="1075.2,617.0 1109.7,684.5 1117.7,684.5 1083.2,617.0"/><polygon points="1109.7,684.5 1144.2,753.5 1152.2,753.5 1117.7,684.5"/><polygon points="1144.2,753.5 1178.7,819.2 1186.7,819.2 1152.2,753.5"/><polygon points="1178.7,819.2 1213.2,873.2 1221.2,873.2 1186.7,819.2"/><polygon points="1213.2,873.2 1247.7,919.5 1255.7,919.5 1221.2,873.2"/><polygon points="1247.7,919.5 1282.2,956.0 1290.2,956.0 1255.7,919.5"/><polygon points="1286.2,952.0 1320.7,981.9 1320.7,989.9 1286.2,960.0"/><polygon points="1320.7,981.9 1355.2,1008.5 1355.2,1016.5 1320.7,989.9"/><polygon points="1355.2,1008.5 1389.7,1031.8 1389.7,1039.8 1355.2,1016.5"/><polygon points="1389.7,1031.8 1424.2,1050.8 1424.2,1058.8 1389.7,1039.8"/><polygon points="1424.2,1050.8 1458.7,1070.5 1458.7,1078.5 1424.2,1058.8"/><polygon points="1458.7,1070.5 1493.2,1086.7 1493.2,1094.7 1458.7,1078.5"/><polygon points="1493.2,1086.7 1527.7,1103.5 1527.7,1111.5 1493.2,1094.7"/><polygon points="1527.7,1103.5 1562.2,1118.8 1562.2,1126.8 1527.7,1111.5"/><polygon points="1562.2,1118.8 1596.7,1131.2 1596.7,1139.2 1562.2,1126.8"/><polygon points="1596.7,1131.2 1631.2,1144.0 1631.2,1152.0 1596.7,1139.2"/><polygon points="1631.2,1144.0 1665.8,1154.5 1665.8,1162.5 1631.2,1152.0"/><polygon points="1665.8,1154.5 1700.3,1164.5 1700.3,1172.5 1665.8,1162.5"/><polygon points="1700.3,1164.5 1734.8,1173.0 1734.8,1181.0 1700.3,1172.5"/><polygon points="1734.8,1173.0 1769.3,1179.8 1769.3,1187.8 1734.8,1181.0"/><polygon points="1769.3,1179.8 1803.8,1187.0 1803.8,1195.0 1769.3,1187.8"/><polygon points="1803.8,1187.0 1838.3,1191.5 1838.3,1199.5 1803.8,1195.0"/><polygon points="1838.3,1191.5 1872.8,1196.0 1872.8,1204.0 1838.3,1199.5"/><polygon points="1872.8,1196.0 1907.3,1201.0 1907.3,1209.0 1872.8,1204.0"/><polygon points="1907.3,1201.0 1941.8,1202.8 1941.8,1210.8 1907.3,1209.0"/><circle cx="222.3" cy="675.7" r="3.4"/><circle cx="228.9" cy="659.2" r="3.4"/><circle cx="235.0" cy="642.6" r="3.4"/><circle cx="251.0" cy="622.1" r="3.4"/><circle cx="285.5" cy="589.8" r="3.4"/><circle cx="320.0" cy="589.8" r="3.4"/><circle cx="332.0" cy="593.0" r="3.4"/><circle cx="344.0" cy="601.0" r="3.4"/><circle cx="354.5" cy="617.5" r="3.4"/><circle cx="365.3" cy="590.0" r="3.4"/><circle cx="381.8" cy="571.0" r="3.4"/><circle cx="389.0" cy="557.5" r="3.4"/><circle cx="423.5" cy="510.5" r="3.4"/><circle cx="458.0" cy="494.2" r="3.4"/><circle cx="470.6" cy="489.5" r="3.4"/><circle cx="477.2" cy="492.5" r="3.4"/><circle cx="486.3" cy="505.5" r="3.4"/><circle cx="492.5" cy="480.9" r="3.4"/><circle cx="505.3" cy="448.0" r="3.4"/><circle cx="513.6" cy="443.0" r="3.4"/><circle cx="527.1" cy="425.8" r="3.4"/><circle cx="561.6" cy="383.9" r="3.4"/><circle cx="596.1" cy="353.6" r="3.4"/><circle cx="630.6" cy="347.1" r="3.4"/><circle cx="665.1" cy="359.1" r="3.4"/><circle cx="699.6" cy="388.2" r="3.4"/><circle cx="734.1" cy="418.6" r="3.4"/><circle cx="768.6" cy="450.1" r="3.4"/><circle cx="803.1" cy="476.4" r="3.4"/><circle cx="837.6" cy="496.9" r="3.4"/><circle cx="872.1" cy="513.5" r="3.4"/><circle cx="906.6" cy="523.0" r="3.4"/><circle cx="941.1" cy="526.4" r="3.4"/><circle cx="975.6" cy="527.4" r="3.4"/><circle cx="1010.1" cy="538.2" r="3.4"/><circle cx="1044.6" cy="568.2" r="3.4"/><circle cx="1079.2" cy="617.0" r="3.4"/><circle cx="1113.7" cy="684.5" r="3.4"/><circle cx="1148.2" cy="753.5" r="3.4"/><circle cx="1182.7" cy="819.2" r="3.4"/><circle cx="1217.2" cy="873.2" r="3.4"/><circle cx="1251.7" cy="919.5" r="3.4"/><circle cx="1286.2" cy="956.0" r="3.4"/><circle cx="1320.7" cy="985.9" r="3.4"/><circle cx="1355.2" cy="1012.5" r="3.4"/><circle cx="1389.7" cy="1035.8" r="3.4"/><circle cx="1424.2" cy="1054.8" r="3.4"/><circle cx="1458.7" cy="1074.5" r="3.4"/><circle cx="1493.2" cy="1090.7" r="3.4"/><circle cx="1527.7" cy="1107.5" r="3.4"/><circle cx="1562.2" cy="1122.8" r="3.4"/><circle cx="1596.7" cy="1135.2" r="3.4"/><circle cx="1631.2" cy="1148.0" r="3.4"/><circle cx="1665.8" cy="1158.5" r="3.4"/><circle cx="1700.3" cy="1168.5" r="3.4"/><circle cx="1734.8" cy="1177.0" r="3.4"/><circle cx="1769.3" cy="1183.8" r="3.4"/><circle cx="1803.8" cy="1191.0" r="3.4"/><circle cx="1838.3" cy="1195.5" r="3.4"/><circle cx="1872.8" cy="1200.0" r="3.4"/><circle cx="1907.3" cy="1205.0" r="3.4"/></g>
<g fill="#00f"><polygon points="200.5,677.8 232.5,677.8 216.5,706.2"/><polygon points="235.0,612.6 267.0,612.6 251.0,641.1"/><polygon points="269.5,580.2 301.5,580.2 285.5,608.8"/><polygon points="304.0,580.2 336.0,580.2 320.0,608.8"/><polygon points="338.5,608.0 370.5,608.0 354.5,636.5"/><polygon points="373.0,548.0 405.0,548.0 389.0,576.5"/><polygon points="407.5,501.0 439.5,501.0 423.5,529.5"/><polygon points="442.0,484.8 474.0,484.8 458.0,513.2"/><polygon points="476.5,471.4 508.5,471.4 492.5,499.9"/><polygon points="511.1,416.2 543.1,416.2 527.1,444.8"/><polygon points="545.6,374.4 577.6,374.4 561.6,402.9"/><polygon points="580.1,344.1 612.1,344.1 596.1,372.6"/><polygon points="614.6,337.6 646.6,337.6 630.6,366.1"/><polygon points="649.1,349.6 681.1,349.6 665.1,378.1"/><polygon points="683.6,378.8 715.6,378.8 699.6,407.2"/><polygon points="718.1,409.1 750.1,409.1 734.1,437.6"/><polygon points="752.6,440.6 784.6,440.6 768.6,469.1"/><polygon points="787.1,466.9 819.1,466.9 803.1,495.4"/><polygon points="821.6,487.4 853.6,487.4 837.6,515.9"/><polygon points="856.1,504.0 888.1,504.0 872.1,532.5"/><polygon points="890.6,513.5 922.6,513.5 906.6,542.0"/><polygon points="925.1,516.9 957.1,516.9 941.1,545.4"/><polygon points="959.6,517.9 991.6,517.9 975.6,546.4"/><polygon points="994.1,528.8 1026.1,528.8 1010.1,557.2"/><polygon points="1028.6,558.8 1060.6,558.8 1044.6,587.2"/><polygon points="1063.2,607.5 1095.2,607.5 1079.2,636.0"/><polygon points="1097.7,675.0 1129.7,675.0 1113.7,703.5"/><polygon points="1132.2,744.0 1164.2,744.0 1148.2,772.5"/><polygon points="1166.7,809.8 1198.7,809.8 1182.7,838.2"/><polygon points="1201.2,863.8 1233.2,863.8 1217.2,892.2"/><polygon points="1235.7,910.0 1267.7,910.0 1251.7,938.5"/><polygon points="1270.2,946.5 1302.2,946.5 1286.2,975.0"/><polygon points="1304.7,976.4 1336.7,976.4 1320.7,1004.9"/><polygon points="1339.2,1003.0 1371.2,1003.0 1355.2,1031.5"/><polygon points="1373.7,1026.3 1405.7,1026.3 1389.7,1054.8"/><polygon points="1408.2,1045.2 1440.2,1045.2 1424.2,1073.8"/><polygon points="1442.7,1065.0 1474.7,1065.0 1458.7,1093.5"/><polygon points="1477.2,1081.2 1509.2,1081.2 1493.2,1109.7"/><polygon points="1511.7,1098.0 1543.7,1098.0 1527.7,1126.5"/><polygon points="1546.2,1113.2 1578.2,1113.2 1562.2,1141.8"/><polygon points="1580.7,1125.8 1612.7,1125.8 1596.7,1154.2"/><polygon points="1615.2,1138.5 1647.2,1138.5 1631.2,1167.0"/><polygon points="1649.8,1149.0 1681.8,1149.0 1665.8,1177.5"/><polygon points="1684.3,1159.0 1716.3,1159.0 1700.3,1187.5"/><polygon points="1718.8,1167.5 1750.8,1167.5 1734.8,1196.0"/><polygon points="1753.3,1174.3 1785.3,1174.3 1769.3,1202.8"/><polygon points="1787.8,1181.5 1819.8,1181.5 1803.8,1210.0"/><polygon points="1822.3,1186.0 1854.3,1186.0 1838.3,1214.5"/><polygon points="1856.8,1190.5 1888.8,1190.5 1872.8,1219.0"/><polygon points="1891.3,1195.5 1923.3,1195.5 1907.3,1224.0"/><polygon points="1925.8,1197.2 1957.8,1197.2 1941.8,1225.8"/></g></g>
<g font-family="'Liberation Serif', serif" font-weight="bold" font-size="60.4" fill="#000" stroke="#fff" stroke-width="0.7" paint-order="fill stroke"><text x="189.3" y="1347.9" text-anchor="end" textLength="69" lengthAdjust="spacingAndGlyphs">0.0</text>
<text x="189.3" y="1134.4" text-anchor="end" textLength="69" lengthAdjust="spacingAndGlyphs">0.5</text>
<text x="189.3" y="920.9" text-anchor="end" textLength="69" lengthAdjust="spacingAndGlyphs">1.0</text>
<text x="189.3" y="707.4" text-anchor="end" textLength="69" lengthAdjust="spacingAndGlyphs">1.5</text>
<text x="189.3" y="493.9" text-anchor="end" textLength="69" lengthAdjust="spacingAndGlyphs">2.0</text>
<text x="189.3" y="280.4" text-anchor="end" textLength="69" lengthAdjust="spacingAndGlyphs">2.5</text>
<text x="189.3" y="66.9" text-anchor="end" textLength="69" lengthAdjust="spacingAndGlyphs">3.0</text>
<text x="216.5" y="1402.6" text-anchor="middle" textLength="84.5" lengthAdjust="spacingAndGlyphs">300</text>
<text x="561.6" y="1402.6" text-anchor="middle" textLength="84.5" lengthAdjust="spacingAndGlyphs">400</text>
<text x="906.6" y="1402.6" text-anchor="middle" textLength="84.5" lengthAdjust="spacingAndGlyphs">500</text>
<text x="1251.7" y="1402.6" text-anchor="middle" textLength="84.5" lengthAdjust="spacingAndGlyphs">600</text>
<text x="1596.7" y="1402.6" text-anchor="middle" textLength="84.5" lengthAdjust="spacingAndGlyphs">700</text>
<text x="1941.8" y="1402.6" text-anchor="middle" textLength="84.5" lengthAdjust="spacingAndGlyphs">800</text></g>
<text x="854" y="1530.2" font-family="'Liberation Serif', serif" font-weight="normal" font-size="61.5" fill="#000" stroke="#000" stroke-width="1.6" stroke-linejoin="round" textLength="450" lengthAdjust="spacingAndGlyphs">Wavelength<tspan font-size="54.5" dy="-6.2">(</tspan><tspan dy="6.2">nm</tspan><tspan font-size="54.5" dy="-6.2">)</tspan></text>
<text transform="translate(73.3,1025.5) rotate(-90)" font-family="'Liberation Serif', serif" font-weight="normal" font-size="61.5" fill="#000" stroke="#000" stroke-width="1.6" stroke-linejoin="round" textLength="570" lengthAdjust="spacingAndGlyphs">Absorbance<tspan font-size="54.5" dy="-6.2">(</tspan><tspan dy="6.2">arb.unit</tspan><tspan font-size="54.5" dy="-6.2">)</tspan></text>
<rect x="399.6" y="927" width="343.4" height="306" fill="#fff" stroke="#3a3a3a" stroke-width="3"/>
<polygon points="407.3,987.9 410.8,985.4 533.5,985.4 537.0,987.9 537.0,992.1 533.5,994.6 410.8,994.6 407.3,992.1" fill="#000"/>
<polygon points="407.3,1058.5 410.8,1056.0 533.5,1056.0 537.0,1058.5 537.0,1061.5 533.5,1064.0 410.8,1064.0 407.3,1061.5" fill="#f00"/>
<polygon points="407.3,1127.5 410.8,1125.0 533.5,1125.0 537.0,1127.5 537.0,1130.5 533.5,1133.0 410.8,1133.0 407.3,1130.5" fill="#0f0"/>
<polygon points="407.3,1196.9 410.8,1194.4 533.5,1194.4 537.0,1196.9 537.0,1199.9 533.5,1202.4 410.8,1202.4 407.3,1199.9" fill="#00f"/>
<rect x="458.8" y="975.8" width="25.6" height="28" fill="#000"/>
<ellipse cx="471.6" cy="1059.0" rx="10.8" ry="14" fill="#f00"/>
<polygon points="472.6,1109.0 489.1,1140.0 455.6,1140.0" fill="#0f0"/>
<polygon points="455.8,1187.8 488.6,1187.8 472.6,1218.2" fill="#00f"/>
<text x="544.2" y="1008.6" font-family="'Liberation Serif', serif" font-size="50.8" fill="#000" stroke="#000" stroke-width="0.7">M-TiO<tspan font-size="38">2</tspan></text>
<text x="544.2" y="1078.6" font-family="'Liberation Serif', serif" font-size="50.8" fill="#000" stroke="#000" stroke-width="0.7">MC-TiO<tspan font-size="38">2</tspan></text>
<text x="544.2" y="1147.6" font-family="'Liberation Serif', serif" font-size="50.8" fill="#000" stroke="#000" stroke-width="0.7">P-TiO<tspan font-size="38">2</tspan></text>
<text x="544.2" y="1217.0" font-family="'Liberation Serif', serif" font-size="50.8" fill="#000" stroke="#000" stroke-width="0.7">PC-TiO<tspan font-size="38">2</tspan></text>
</svg>
</body>
</html>
